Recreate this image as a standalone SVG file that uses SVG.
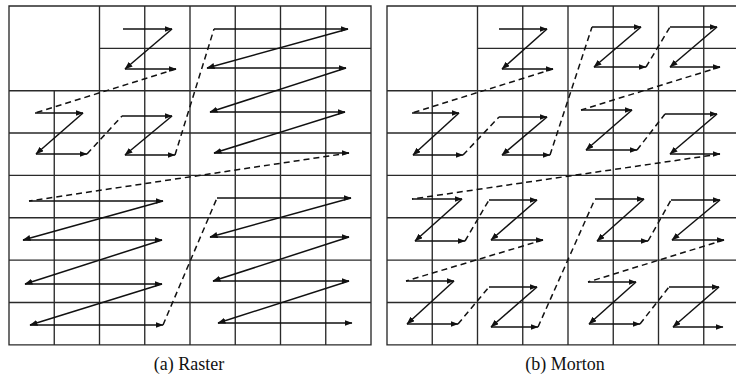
<svg xmlns="http://www.w3.org/2000/svg" width="736" height="387" viewBox="0 0 736 387">
<style>
.grid{fill:none;stroke:#2a2a2a;stroke-width:1.35}
.a{stroke:#111;stroke-width:1.5;fill:none;marker-end:url(#ah)}
.d{stroke:#111;stroke-width:1.5;fill:none;stroke-dasharray:6 4}
.cap{font-family:"Liberation Serif","DejaVu Serif",serif;font-size:18px;fill:#111;text-anchor:middle}
</style>
<defs>
<marker id="ah" markerUnits="userSpaceOnUse" markerWidth="9" markerHeight="7" refX="7.5" refY="3" orient="auto">
<path d="M0,0 L8,3 L0,6 z" fill="#111"/>
</marker>
</defs>
<rect width="736" height="387" fill="#fff"/>
<g id="raster-grid">
<path class="grid" d="M9,6 H371 V344.8 H9 Z M54.25,90.7 V344.8 M99.5,6 V344.8 M144.75,6 V344.8 M190,6 V344.8 M235.25,6 V344.8 M280.5,6 V344.8 M325.75,6 V344.8 M99.5,48.35 H371 M9,90.7 H371 M9,133 H371 M9,175.4 H371 M9,217.75 H371 M9,260.1 H371 M9,302.45 H371"/>
</g>
<g id="morton-grid">
<path class="grid" d="M387,6 H749 V344.8 H387 Z M432.25,90.7 V344.8 M477.5,6 V344.8 M522.75,6 V344.8 M568,6 V344.8 M613.25,6 V344.8 M658.5,6 V344.8 M703.75,6 V344.8 M477.5,48.35 H749 M387,90.7 H749 M387,133 H749 M387,175.4 H749 M387,217.75 H749 M387,260.1 H749 M387,302.45 H749"/>
</g>
<g id="connectors">
<!-- Raster -->
<line class="a" x1="123" y1="29" x2="172" y2="29"/>
<line class="a" x1="172" y1="29" x2="125" y2="69"/>
<line class="a" x1="125" y1="69" x2="176" y2="69"/>
<line class="d" x1="176" y1="69" x2="35" y2="113"/>
<line class="a" x1="35" y1="113" x2="83" y2="113"/>
<line class="a" x1="83" y1="113" x2="36" y2="154"/>
<line class="a" x1="36" y1="154" x2="87" y2="154"/>
<line class="d" x1="87" y1="154" x2="122" y2="116"/>
<line class="a" x1="122" y1="116" x2="172" y2="116"/>
<line class="a" x1="172" y1="116" x2="125" y2="155"/>
<line class="a" x1="125" y1="155" x2="175" y2="155"/>
<line class="d" x1="175" y1="155" x2="214" y2="29"/>
<line class="a" x1="214" y1="29" x2="348" y2="29"/>
<line class="a" x1="348" y1="29" x2="207" y2="68"/>
<line class="a" x1="207" y1="68" x2="346" y2="68"/>
<line class="a" x1="346" y1="68" x2="210" y2="112"/>
<line class="a" x1="210" y1="112" x2="345" y2="112"/>
<line class="a" x1="345" y1="112" x2="214" y2="153"/>
<line class="a" x1="214" y1="153" x2="349" y2="153"/>
<line class="d" x1="349" y1="153" x2="29" y2="201"/>
<line class="a" x1="29" y1="201" x2="163" y2="201"/>
<line class="a" x1="163" y1="201" x2="23" y2="240"/>
<line class="a" x1="23" y1="240" x2="162" y2="240"/>
<line class="a" x1="162" y1="240" x2="25" y2="284"/>
<line class="a" x1="25" y1="284" x2="162" y2="284"/>
<line class="a" x1="162" y1="284" x2="30" y2="325"/>
<line class="a" x1="30" y1="325" x2="163" y2="325"/>
<line class="d" x1="163" y1="325" x2="217" y2="198"/>
<line class="a" x1="217" y1="198" x2="351" y2="198"/>
<line class="a" x1="351" y1="198" x2="210" y2="237"/>
<line class="a" x1="210" y1="237" x2="349" y2="237"/>
<line class="a" x1="349" y1="237" x2="213" y2="281"/>
<line class="a" x1="213" y1="281" x2="349" y2="281"/>
<line class="a" x1="349" y1="281" x2="218" y2="323"/>
<line class="a" x1="218" y1="323" x2="352" y2="323"/>
<!-- Morton -->
<line class="a" x1="499" y1="29" x2="547" y2="29"/>
<line class="a" x1="547" y1="29" x2="502" y2="69"/>
<line class="a" x1="502" y1="69" x2="553" y2="69"/>
<line class="d" x1="553" y1="69" x2="412" y2="113"/>
<line class="a" x1="412" y1="113" x2="459" y2="113"/>
<line class="a" x1="459" y1="113" x2="413" y2="155"/>
<line class="a" x1="413" y1="155" x2="463" y2="155"/>
<line class="d" x1="463" y1="155" x2="499" y2="117"/>
<line class="a" x1="499" y1="117" x2="547" y2="117"/>
<line class="a" x1="547" y1="117" x2="502" y2="155"/>
<line class="a" x1="502" y1="155" x2="550" y2="155"/>
<line class="d" x1="550" y1="155" x2="592" y2="27"/>
<line class="a" x1="592" y1="27" x2="641" y2="27"/>
<line class="a" x1="641" y1="27" x2="594" y2="67"/>
<line class="a" x1="594" y1="67" x2="646" y2="67"/>
<line class="d" x1="646" y1="67" x2="670" y2="27"/>
<line class="a" x1="670" y1="27" x2="717" y2="27"/>
<line class="a" x1="717" y1="27" x2="670" y2="67"/>
<line class="a" x1="670" y1="67" x2="720" y2="67"/>
<line class="d" x1="720" y1="67" x2="581" y2="110"/>
<line class="a" x1="581" y1="110" x2="632" y2="110"/>
<line class="a" x1="632" y1="110" x2="586" y2="150"/>
<line class="a" x1="586" y1="150" x2="637" y2="150"/>
<line class="d" x1="637" y1="150" x2="665" y2="114"/>
<line class="a" x1="665" y1="114" x2="717" y2="114"/>
<line class="a" x1="717" y1="114" x2="670" y2="154"/>
<line class="a" x1="670" y1="154" x2="720" y2="154"/>
<line class="d" x1="720" y1="154" x2="412" y2="199"/>
<line class="a" x1="412" y1="199" x2="462" y2="199"/>
<line class="a" x1="462" y1="199" x2="415" y2="241"/>
<line class="a" x1="415" y1="241" x2="465" y2="241"/>
<line class="d" x1="465" y1="241" x2="489" y2="200"/>
<line class="a" x1="489" y1="200" x2="537" y2="200"/>
<line class="a" x1="537" y1="200" x2="491" y2="240"/>
<line class="a" x1="491" y1="240" x2="543" y2="240"/>
<line class="d" x1="543" y1="240" x2="406" y2="281"/>
<line class="a" x1="406" y1="281" x2="454" y2="281"/>
<line class="a" x1="454" y1="281" x2="407" y2="324"/>
<line class="a" x1="407" y1="324" x2="458" y2="324"/>
<line class="d" x1="458" y1="324" x2="489" y2="287"/>
<line class="a" x1="489" y1="287" x2="537" y2="287"/>
<line class="a" x1="537" y1="287" x2="491" y2="327"/>
<line class="a" x1="491" y1="327" x2="538" y2="327"/>
<line class="d" x1="538" y1="327" x2="595" y2="199"/>
<line class="a" x1="595" y1="199" x2="644" y2="199"/>
<line class="a" x1="644" y1="199" x2="597" y2="241"/>
<line class="a" x1="597" y1="241" x2="648" y2="241"/>
<line class="d" x1="648" y1="241" x2="671" y2="200"/>
<line class="a" x1="671" y1="200" x2="720" y2="200"/>
<line class="a" x1="720" y1="200" x2="672" y2="240"/>
<line class="a" x1="672" y1="240" x2="724" y2="240"/>
<line class="d" x1="724" y1="240" x2="588" y2="282"/>
<line class="a" x1="588" y1="282" x2="636" y2="282"/>
<line class="a" x1="636" y1="282" x2="589" y2="324"/>
<line class="a" x1="589" y1="324" x2="640" y2="324"/>
<line class="d" x1="640" y1="324" x2="669" y2="287"/>
<line class="a" x1="669" y1="287" x2="719" y2="287"/>
<line class="a" x1="719" y1="287" x2="673" y2="327"/>
<line class="a" x1="673" y1="327" x2="723" y2="327"/>
</g>
<g id="captions">
<text class="cap" x="189" y="370">(a) Raster</text>
<text class="cap" x="565" y="370">(b) Morton</text>
</g>
</svg>
